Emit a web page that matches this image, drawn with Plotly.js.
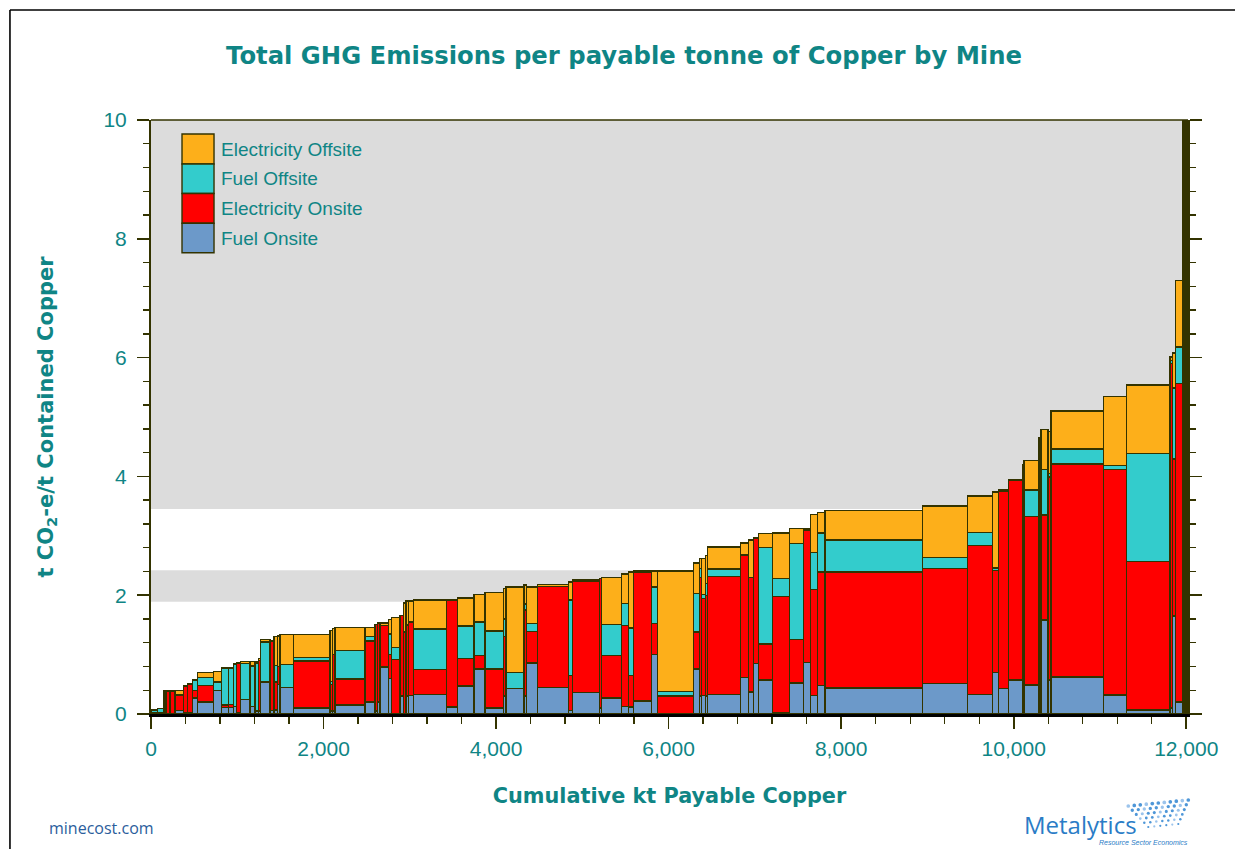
<!DOCTYPE html>
<html>
<head>
<meta charset="utf-8">
<script src="https://cdn.plot.ly/plotly-3.0.1.min.js"></script>
<style>html,body{margin:0;padding:0;background:#fff;}#chart{width:1235px;height:849px;}</style>
</head>
<body>
<div id="chart"></div>
<script>
// Payable copper per mine (kt), in cost-curve order
const mineOutput = [73,78,23,46,58,96,46,58,58,186, 97,77,58,39,46,108,58,38,28,108, 46,43,27,154,426,27,31,348,116,27, 31,96,39,96,38,31,27,58,387,123, 194,128,212,31,209,31,123,359,51,308, 28,232,77,58,213,65,417,70,28,46, 19,387,88,58,58,167,192,162,86,77, 89,1128,526,285,70,116,162,20,174,20, 81,38,606,271,502,31,35,77,60];
// Emission intensity components (t CO2-e / t Cu)
const fuelOnsite = [0.02,0.02,0,0.01,0.01,0.06,0.02,0.02,0.27,0.20, 0.40,0.11,0.11,0.13,0.02,0.24,0.13,0.05,0.05,0.54, 0.06,0.07,0.50,0.45,0.10,0.05,0.05,0.15,0.20,0.05, 0.20,0.79,0.60,0.01,0.30,0.01,0.30,0.31,0.33,0.12, 0.47,0.76,0.10,0.30,0.43,0.30,0.86,0.45,0.06,0.36, 0.10,0.27,0.13,0.12,0.22,1.00,0.00,0.76,0.30,0.31, 0.30,0.33,0.61,0.37,0.85,0.57,0.03,0.52,0.87,0.31, 0.48,0.44,0.51,0.33,0.70,0.43,0.57,0.50,0.49,0.50, 1.58,0.57,0.62,0.32,0.07,0.10,1.65,0.20,0.50];
const elecOnsite = [0,0,0.38,0.37,0.37,0.25,0.44,0.48,0.13,0.28, 0,0.04,0.05,0,0.84,0,0,0,0.85,0, 1.17,0.47,0.30,0,0.79,0.45,0.95,0.44,1.03,1.46, 1.33,0.70,0.40,0.91,1.36,1.37,1.20,1.24,0.42,1.79, 0.46,0.22,0.66,1.00,0,1.45,0.53,1.70,0.59,1.88, 2.18,0.71,1.36,0.53,2.16,0.52,0.30,0.62,2.00,1.63, 1.70,1.98,2.07,1.93,2.10,0.61,1.95,0.73,2.23,1.79, 1.91,1.95,1.94,2.51,1.72,3.32,3.36,2.80,2.83,2.80, 1.77,3.42,3.59,3.80,2.50,5.80,2.64,5.36,9.00];
const fuelOffsite = [0.05,0.07,0,0,0,0.01,0,0,0.16,0.13, 0.14,0.62,0.61,0.71,0,0.61,0.68,0.81,0,0.67, 0,0.28,0,0.38,0.06,0.05,0,0.48,0.07,0, 0,0,0.35,0.20,0,0,0,0,0.68,0, 0.55,0.57,0.64,0.30,0.27,0.10,0.13,0,1.27,0, 0,0.53,0.37,0.80,0,0.62,0.08,0.65,0.15,0.07, 0.20,0.13,0,0,0,1.62,0.30,1.62,0,0.62, 0.66,0.54,0.18,0.22,0.04,0,0,0.50,0.45,0.70, 0.77,0.06,0.25,0.06,1.82,0.05,1.20,0.62,1.00];
const elecOffsite = [0,0,0.01,0.01,0.01,0.08,0.01,0.01,0.02,0.09, 0.18,0.01,0.01,0,0,0.03,0.07,0.02,0.03,0.04, 0,0.48,0.51,0.51,0.39,0.86,0.44,0.39,0.16,0, 0,0.04,0.24,0.50,0,0.49,0.40,0.35,0.49,0.02, 0.47,0.46,0.65,0.51,1.44,0.32,0.62,0.03,0.30,0.02, 0,0.79,0.50,0.94,0.03,0.27,2.03,0.51,0.17,0.61, 0.47,0.37,0.20,0.63,0.01,0.24,0.77,0.25,0.02,0.64, 0.34,0.50,0.87,0.61,1.28,0.02,0.02,0.39,0.50,0.66, 0.67,0.71,0.64,1.17,1.15,0.06,0.59,1.12,4.00];
// Shaded intensity bands (t CO2-e / t Cu)
const bandLow = [1.89, 3.45];
const bandHigh = [2.42, 10];
const seriesNames = ['Fuel Onsite','Electricity Onsite','Fuel Offsite','Electricity Offsite'];
const xTickVals = [0,2000,4000,6000,8000,10000,12000];
const yTickVals = [0,2,4,6,8,10];

const seriesColors = ['#6c99c9','#ff0000','#33cccc','#fdaf1a'];
const seriesData = [fuelOnsite, elecOnsite, fuelOffsite, elecOffsite];

// bar centres from cumulative output
const centers = [];
let cum = 0;
mineOutput.forEach(w => { centers.push(cum + w/2); cum += w; });

const edge = '#333300';
const teal = '#0f8585';
// the last (off-scale) mine is drawn solid dark, as in the source
const lastIdx = mineOutput.length - 1;
const traces = seriesData.map((vals, i) => ({
  type: 'bar', name: seriesNames[i], x: centers, y: vals, width: mineOutput,
  marker: {color: mineOutput.map((w, k) => k === lastIdx ? edge : seriesColors[i]), line: {color: edge, width: 1.4}},
  showlegend: false, hoverinfo: 'skip'
}));

// paper coordinate helpers (plot area 151..1187.7 px, 120..714 px)
const PL = 151, PW = 1036.7, PT = 120, PB = 714, PH = 594;
const px = v => (v - PL) / PW;
const py = v => (PB - v) / PH;

const shapes = [];
bandLow.forEach((lo, i) => shapes.push({type:'rect', xref:'paper', yref:'y', x0:0, x1:1, y0:lo, y1:bandHigh[i], fillcolor:'#dcdcdc', line:{width:0}, layer:'below'}));
// top border of plot
shapes.push({type:'line', xref:'paper', yref:'paper', x0:0, x1:1, y0:1, y1:1, line:{color:edge, width:1.6}});
// outer frame
shapes.push({type:'line', xref:'paper', yref:'paper', x0:px(10), x1:px(1240), y0:py(10), y1:py(10), line:{color:'#000', width:1.6}});
shapes.push({type:'line', xref:'paper', yref:'paper', x0:px(10), x1:px(10), y0:py(10), y1:py(855), line:{color:'#000', width:1.6}});

// legend (top to bottom: reverse stacking)
const annotations = [];
const legTops = [134, 164, 193.5, 223.3, 252.7];
[3,2,1,0].forEach((si, k) => {
  shapes.push({type:'rect', xref:'paper', yref:'paper', x0:px(182), x1:px(214), y0:py(legTops[k+1]), y1:py(legTops[k]), fillcolor:seriesColors[si], line:{color:edge, width:1.4}});
  annotations.push({xref:'paper', yref:'paper', x:px(219), y:py((legTops[k]+legTops[k+1])/2), xanchor:'left', yanchor:'middle', showarrow:false, text:seriesNames[si], font:{family:'Liberation Sans, Arial, sans-serif', size:19, color:teal}});
});

// footer
annotations.push({xref:'paper', yref:'paper', x:px(47), y:py(828), xanchor:'left', yanchor:'middle', showarrow:false, text:'minecost.com', font:{family:'Open Sans, sans-serif', size:16, color:'#2b5d9c'}});
annotations.push({xref:'paper', yref:'paper', x:px(1022), y:py(824), xanchor:'left', yanchor:'middle', showarrow:false, text:'Metalytics', font:{family:'Open Sans, sans-serif', size:24, color:'#2a7cc6'}});
annotations.push({xref:'paper', yref:'paper', x:px(1190), y:py(842), xanchor:'right', yanchor:'middle', showarrow:false, text:'<i>Resource Sector Economics</i>', font:{family:'Liberation Sans, sans-serif', size:7, color:'#2a7cc6'}});
// logo dot grid
for (let r = 0; r < 6; r++) {
  for (let c = 0; c < 11 - r; c++) {
    const cx = 1128 + r*4 + c*6;
    const cy = 806 + r*4.2 - c*0.6;
    const rad = 1.1 + 0.15*(5-r);
    shapes.push({type:'circle', xref:'paper', yref:'paper', x0:px(cx-rad), x1:px(cx+rad), y0:py(cy+rad), y1:py(cy-rad), fillcolor: (c+r)%3===0 ? '#9cc4ec' : '#4f97d8', line:{width:0}});
  }
}

const layout = {
  width: 1235, height: 849,
  margin: {l: 151, r: 1235-1187.7, t: 120, b: 135},
  paper_bgcolor: '#ffffff', plot_bgcolor: '#ffffff',
  barmode: 'stack', showlegend: false,
  title: {text: 'Total GHG Emissions per payable tonne of Copper by Mine', xref:'container', x: 624/1235, xanchor:'center', y: 1-55/849, yanchor:'middle', font: {family:'DejaVu Sans, sans-serif', size: 24.3, color: teal, weight: 'bold'}},
  xaxis: {
    range: [0, 12020], tickvals: xTickVals, tickformat: ',', showgrid: false, zeroline: false,
    showline: true, linecolor: '#000', linewidth: 3, ticks: 'outside', ticklen: 12, tickwidth: 1.6, tickcolor: edge,
    minor: {dtick: 400, ticks: 'outside', ticklen: 7, tickwidth: 1.4, tickcolor: edge},
    tickfont: {family:'Liberation Sans, Arial, sans-serif', size: 21, color: teal}, ticklabelstandoff: 2,
    title: {text: 'Cumulative kt Payable Copper', standoff: 30, font: {family:'DejaVu Sans, sans-serif', size: 20.8, color: teal, weight: 'bold'}},
    automargin: false
  },
  yaxis: {
    range: [0, 10], tickvals: yTickVals, showgrid: false, zeroline: false,
    showline: true, linecolor: edge, linewidth: 2, mirror: 'ticks', ticks: 'outside', ticklen: 12, tickwidth: 1.6, tickcolor: edge,
    minor: {dtick: 0.4, ticks: 'outside', ticklen: 6, tickwidth: 1.4, tickcolor: edge},
    tickfont: {family:'Liberation Sans, Arial, sans-serif', size: 21, color: teal}, ticklabelstandoff: 6,
    title: {text: 't CO<sub>2</sub>-e/t Contained Copper', standoff: 44, font: {family:'DejaVu Sans, sans-serif', size: 21, color: teal, weight: 'bold'}},
    automargin: false
  },
  shapes: shapes, annotations: annotations
};

Plotly.newPlot('chart', traces, layout, {staticPlot: true, displayModeBar: false});
</script>
</body>
</html>
